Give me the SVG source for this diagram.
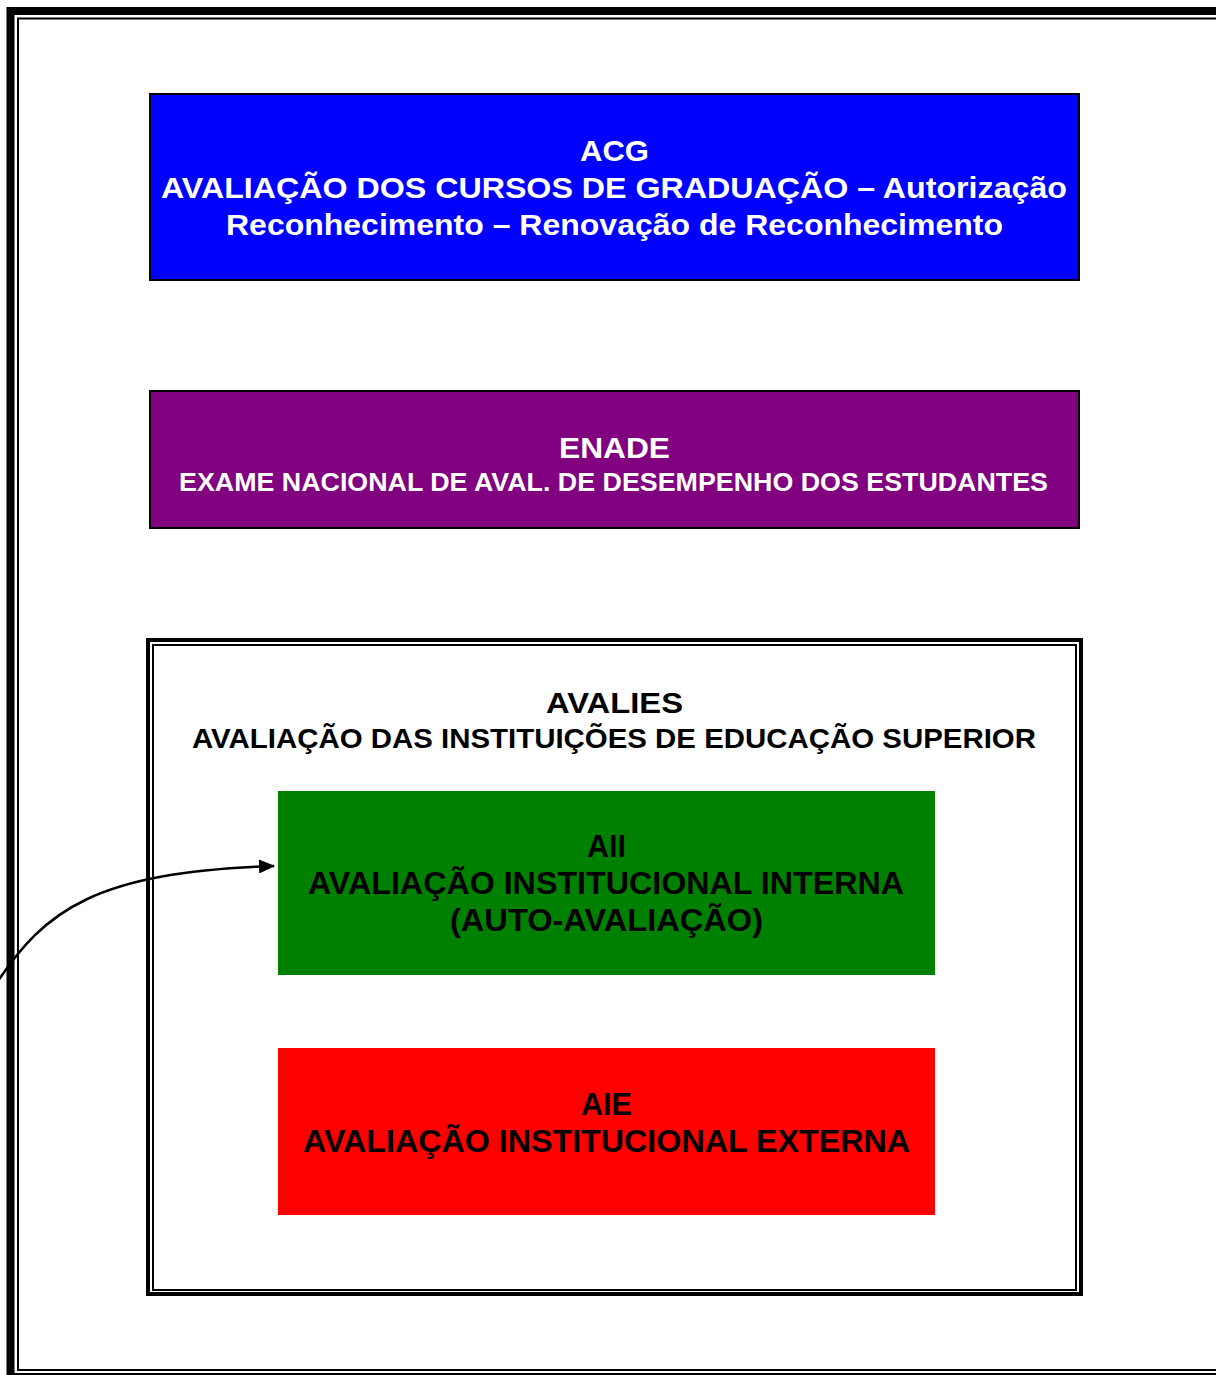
<svg xmlns="http://www.w3.org/2000/svg" width="1216" height="1375" viewBox="0 0 1216 1375">
<defs>
<style>
.t{font-family:"Liberation Sans",Arial,sans-serif;font-weight:bold;text-anchor:middle}
.w{fill:#fff}
.k{fill:#000}
</style>
<marker id="ah" markerWidth="16" markerHeight="14" refX="15" refY="7" orient="auto" markerUnits="userSpaceOnUse">
<path d="M0,0 L16,7 L0,14 Z" fill="#000"/>
</marker>
</defs>
<rect width="1216" height="1375" fill="#fff"/>
<g id="frame">
<rect x="10.5" y="11" width="1220" height="1366" fill="none" stroke="#000" stroke-width="8"/>
<rect x="18" y="18.5" width="1210" height="1351.5" fill="none" stroke="#000" stroke-width="2"/>
</g>
<g id="acg">
<rect x="150" y="94" width="929" height="186" fill="#0000ff" stroke="#000" stroke-width="2"/>
<text class="t w" x="614.5" y="161" font-size="30" textLength="69" lengthAdjust="spacingAndGlyphs">ACG</text>
<text class="t w" x="614" y="198" font-size="30" textLength="906" lengthAdjust="spacingAndGlyphs">AVALIAÇÃO DOS CURSOS DE GRADUAÇÃO – Autorização</text>
<text class="t w" x="614.5" y="235" font-size="30" textLength="777" lengthAdjust="spacingAndGlyphs">Reconhecimento – Renovação de Reconhecimento</text>
</g>
<g id="enade">
<rect x="150" y="391" width="929" height="137" fill="#800080" stroke="#000" stroke-width="2"/>
<text class="t w" x="614.5" y="458" font-size="30" textLength="111" lengthAdjust="spacingAndGlyphs">ENADE</text>
<text class="t w" x="613.5" y="491" font-size="26.5" textLength="869" lengthAdjust="spacingAndGlyphs">EXAME NACIONAL DE AVAL. DE DESEMPENHO DOS ESTUDANTES</text>
</g>
<g id="avalies">
<rect x="148" y="640" width="933" height="654" fill="#fff" stroke="#000" stroke-width="4"/>
<rect x="153" y="645" width="923" height="645" fill="none" stroke="#000" stroke-width="2"/>
<text class="t k" x="614.5" y="713" font-size="30" textLength="137" lengthAdjust="spacingAndGlyphs">AVALIES</text>
<text class="t k" x="614" y="748" font-size="28.5" textLength="844" lengthAdjust="spacingAndGlyphs">AVALIAÇÃO DAS INSTITUIÇÕES DE EDUCAÇÃO SUPERIOR</text>
</g>
<g id="aii">
<rect x="278" y="791" width="657" height="184" fill="#008000"/>
<text class="t k" x="606.5" y="857" font-size="30.5" textLength="39" lengthAdjust="spacingAndGlyphs">AII</text>
<text class="t k" x="606" y="894" font-size="30.5" textLength="596" lengthAdjust="spacingAndGlyphs">AVALIAÇÃO INSTITUCIONAL INTERNA</text>
<text class="t k" x="606.5" y="931" font-size="30.5" textLength="313" lengthAdjust="spacingAndGlyphs">(AUTO-AVALIAÇÃO)</text>
</g>
<g id="aie">
<rect x="278" y="1048" width="657" height="167" fill="#ff0000"/>
<text class="t k" x="606.5" y="1115" font-size="30.5" textLength="51" lengthAdjust="spacingAndGlyphs">AIE</text>
<text class="t k" x="606.5" y="1152" font-size="30.5" textLength="607" lengthAdjust="spacingAndGlyphs">AVALIAÇÃO INSTITUCIONAL EXTERNA</text>
</g>
<g id="connectors">
<path d="M-4,984 C45,910 95,872 274,866" fill="none" stroke="#000" stroke-width="2.5" marker-end="url(#ah)"/>
</g>
</svg>
